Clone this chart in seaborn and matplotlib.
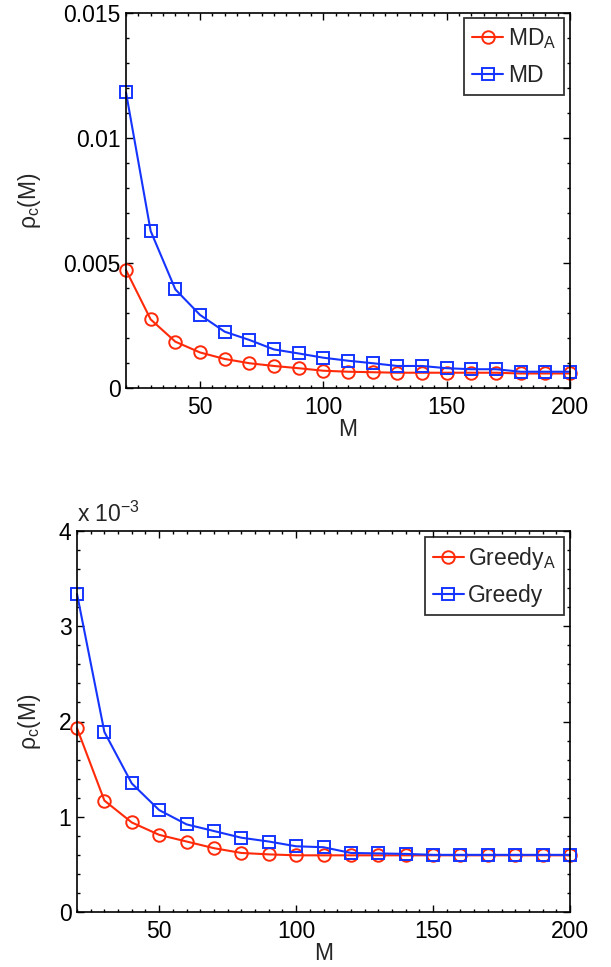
import numpy as np
import pandas as pd
import seaborn as sns
import matplotlib
matplotlib.use("Agg")
import matplotlib.pyplot as plt
from matplotlib.ticker import MultipleLocator, FuncFormatter

# ---- data ----
M = [20, 30, 40, 50, 60, 70, 80, 90, 100, 110, 120, 130, 140, 150, 160, 170, 180, 190, 200]

md_a = [4.71e-3, 2.74e-3, 1.85e-3, 1.42e-3, 1.16e-3, 0.99e-3, 0.88e-3, 0.79e-3, 0.69e-3, 0.65e-3,
        0.63e-3, 0.61e-3, 0.61e-3, 0.61e-3, 0.61e-3, 0.61e-3, 0.58e-3, 0.58e-3, 0.58e-3]
md = [11.81e-3, 6.27e-3, 3.94e-3, 2.92e-3, 2.25e-3, 1.92e-3, 1.54e-3, 1.38e-3, 1.21e-3, 1.09e-3,
      0.99e-3, 0.88e-3, 0.88e-3, 0.79e-3, 0.75e-3, 0.75e-3, 0.65e-3, 0.65e-3, 0.65e-3]

greedy_a = [1.93e-3, 1.17e-3, 0.94e-3, 0.81e-3, 0.74e-3, 0.67e-3, 0.62e-3, 0.605e-3, 0.595e-3, 0.595e-3,
            0.595e-3, 0.595e-3, 0.595e-3, 0.595e-3, 0.595e-3, 0.595e-3, 0.595e-3, 0.595e-3, 0.595e-3]
greedy = [3.34e-3, 1.89e-3, 1.35e-3, 1.07e-3, 0.92e-3, 0.85e-3, 0.78e-3, 0.74e-3, 0.69e-3, 0.68e-3,
          0.62e-3, 0.615e-3, 0.61e-3, 0.60e-3, 0.60e-3, 0.60e-3, 0.60e-3, 0.60e-3, 0.60e-3]

top_labels = ["MD$_\\mathregular{A}$", "MD"]
bottom_labels = ["Greedy$_\\mathregular{A}$", "Greedy"]

RED = "#ff2a0a"
BLUE = "#1535ff"

sns.set_style("ticks")
plt.rcParams["font.family"] = ["Liberation Sans", "DejaVu Sans"]
plt.rcParams["mathtext.fontset"] = "custom"
plt.rcParams["mathtext.rm"] = "Liberation Sans"
plt.rcParams["mathtext.it"] = "Liberation Sans:italic"
plt.rcParams["mathtext.default"] = "regular"

FS = 16.5

fig = plt.figure(figsize=(6.11, 9.67), dpi=100)
W, H = 611.0, 967.0
ax1 = fig.add_axes([126 / W, 1 - 388 / H, (570 - 126) / W, (388 - 12.5) / H])
ax2 = fig.add_axes([77 / W, 1 - 912 / H, (570 - 77) / W, (912 - 531) / H])


def draw(ax, ya, yb, labels):
    df_a = pd.DataFrame({"M": M, "rho": ya})
    df_b = pd.DataFrame({"M": M, "rho": yb})
    sns.lineplot(data=df_a, x="M", y="rho", ax=ax, color=RED, marker="o", markersize=9,
                 mfc="none", mec=RED, mew=1.4, linewidth=1.5, label=labels[0], legend=False)
    sns.lineplot(data=df_b, x="M", y="rho", ax=ax, color=BLUE, marker="s", markersize=8,
                 mfc="none", mec=BLUE, mew=1.4, linewidth=1.5, label=labels[1], legend=False)
    for ln in ax.lines:
        ln.set_markerfacecolor("none")
        ln.set_clip_on(False)
    ax.set_xlim(20, 200)
    ax.xaxis.set_major_locator(MultipleLocator(50))
    ax.xaxis.set_minor_locator(MultipleLocator(5))
    ax.tick_params(which="both", direction="in", top=True, right=True, labelsize=FS,
                   colors="black", width=1.0)
    ax.tick_params(which="major", length=5, pad=6)
    ax.tick_params(axis="y", which="major", pad=4)
    ax.tick_params(which="minor", length=2.5)
    for s in ax.spines.values():
        s.set_linewidth(1.2)
        s.set_color("black")
    ax.set_xlabel("M", fontsize=FS, labelpad=-1)
    ax.set_ylabel("\u03c1$_\\mathregular{c}$(M)", fontsize=FS)
    leg = ax.legend(loc="upper right", fontsize=FS, frameon=True, fancybox=False,
                    edgecolor="black", handlelength=1.35, handletextpad=0.2,
                    borderpad=0.35, labelspacing=0.55, borderaxespad=0.25)
    leg.get_frame().set_linewidth(1.3)


draw(ax1, md_a, md, top_labels)
ax1.set_ylim(0, 0.015)
ax1.yaxis.set_major_locator(MultipleLocator(0.005))
ax1.yaxis.set_minor_locator(MultipleLocator(0.001))
ax1.yaxis.set_major_formatter(FuncFormatter(lambda v, p: "%g" % round(v, 6)))
ax1.yaxis.set_label_coords((43 - 126) / 444.0, 0.5)

draw(ax2, greedy_a, greedy, bottom_labels)
ax2.set_ylim(0, 0.004)
ax2.yaxis.set_major_locator(MultipleLocator(0.001))
ax2.yaxis.set_minor_locator(MultipleLocator(0.0002))
ax2.yaxis.set_major_formatter(FuncFormatter(lambda v, p: "%g" % round(v * 1000, 6)))
ax2.yaxis.set_label_coords((43 - 77) / 493.0, 0.5)
ax2.text(0.0, 1.01, "x 10$^{\\mathregular{-3}}$", transform=ax2.transAxes, fontsize=FS,
         ha="left", va="bottom")

fig.savefig("out.png", dpi=100)
